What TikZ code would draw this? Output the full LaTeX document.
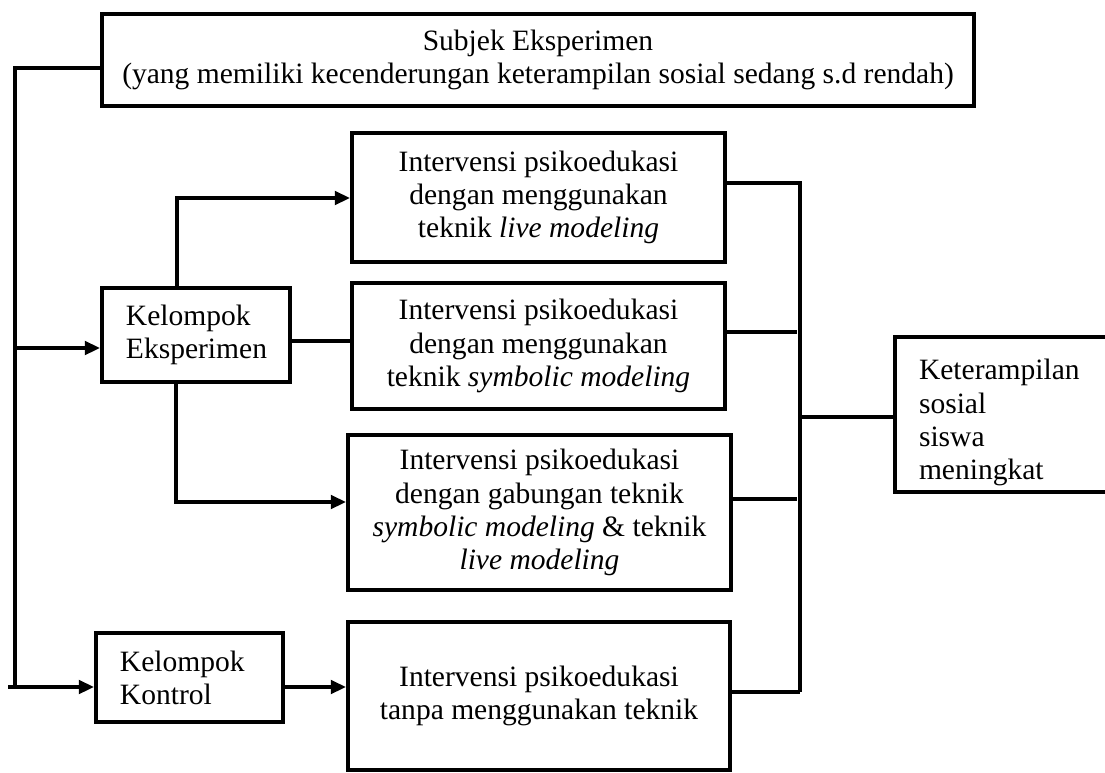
\documentclass[tikz,border=0pt]{standalone}
\usepackage{fontspec}
\setmainfont{Liberation Serif}
\usetikzlibrary{arrows.meta}

\begin{document}
\begin{tikzpicture}[x=0.025cm, y=-0.025cm,
  >={Triangle[length=0.38cm, width=0.34cm]},
  box/.style={draw, rectangle, line width=0.1cm, inner sep=0pt,
    font=\fontsize{21}{23.6}\selectfont},
  midbox/.style={box, align=center},
  groupbox/.style={box, align=left, inner xsep=0.6cm},
  link/.style={line width=0.08cm},
  stub/.style={line width=0.1cm},
  arrow/.style={link, ->}
]
  \clip (0,0) rectangle (1105,772);

  % Subject box
  \node[midbox, minimum width=21.8cm, minimum height=2.3cm] (subjek) at (538,60)
    {Subjek Eksperimen\\(yang memiliki kecenderungan keterampilan sosial sedang s.d rendah)};

  % Groups
  \node[groupbox, text width=3.5cm, minimum height=2.35cm] (eksp) at (196,335)
    {Kelompok\\Eksperimen};
  \node[groupbox, text width=3.475cm, minimum height=2.225cm] (kontrol) at (189.5,677.5)
    {Kelompok\\Kontrol};

  % Interventions
  \node[midbox, minimum width=9.325cm, minimum height=3.225cm] (live) at (538.5,197.5)
    {Intervensi psikoedukasi\\dengan menggunakan\\teknik \textit{live modeling}};
  \node[midbox, minimum width=9.325cm, minimum height=3.15cm] (symbolic) at (538.5,346)
    {Intervensi psikoedukasi\\dengan menggunakan\\teknik \textit{symbolic modeling}};
  \node[midbox, minimum width=9.575cm, minimum height=3.875cm] (gabungan) at (539.5,512.5)
    {Intervensi psikoedukasi\\dengan gabungan teknik\\\textit{symbolic modeling} \& teknik\\\textit{live modeling}};
  \node[midbox, minimum width=9.55cm, minimum height=3.7cm] (tanpa) at (539,696)
    {Intervensi psikoedukasi\\tanpa menggunakan teknik};

  % Outcome
  \node[groupbox, anchor=west, text width=6.25cm, minimum height=3.875cm] (hasil) at (893,414.5)
    {\rule{0pt}{0.92cm}Keterampilan\\sosial\\siswa\\meningkat};

  % Helper coordinates
  \coordinate (left) at (15,68);
  \coordinate (bus) at (800,183);
  \coordinate (busend) at (800,692);
  \coordinate (busmid) at (800,417);

  % Subject to groups
  \draw[stub] (subjek.west |- left) -- (left) -- (15,689);
  \draw[arrow] (15,348) -- (eksp.west |- 0,348);
  \draw[arrow] (8,687) -- (kontrol.west |- 0,687);

  % Groups to interventions
  \draw[arrow] (eksp.north -| 177,0) |- (live.west |- 0,198);
  \draw[link] (eksp.east |- 0,341) -- (symbolic.west |- 0,341);
  \draw[arrow] (eksp.south -| 176,0) |- (gabungan.west |- 0,502);
  \draw[arrow] (kontrol.east |- 0,687) -- (tanpa.west |- 0,687);

  % Interventions to outcome
  \draw[link] (live.east |- bus) -- (bus) -- (busend);
  \draw[stub] (symbolic.east |- 0,332) -- (797,332);
  \draw[stub] (gabungan.east |- 0,499) -- (797,499);
  \draw[stub] (tanpa.east |- busend) -- (busend);
  \draw[stub] (busmid) -- (hasil.west |- busmid);

\end{tikzpicture}
\end{document}
